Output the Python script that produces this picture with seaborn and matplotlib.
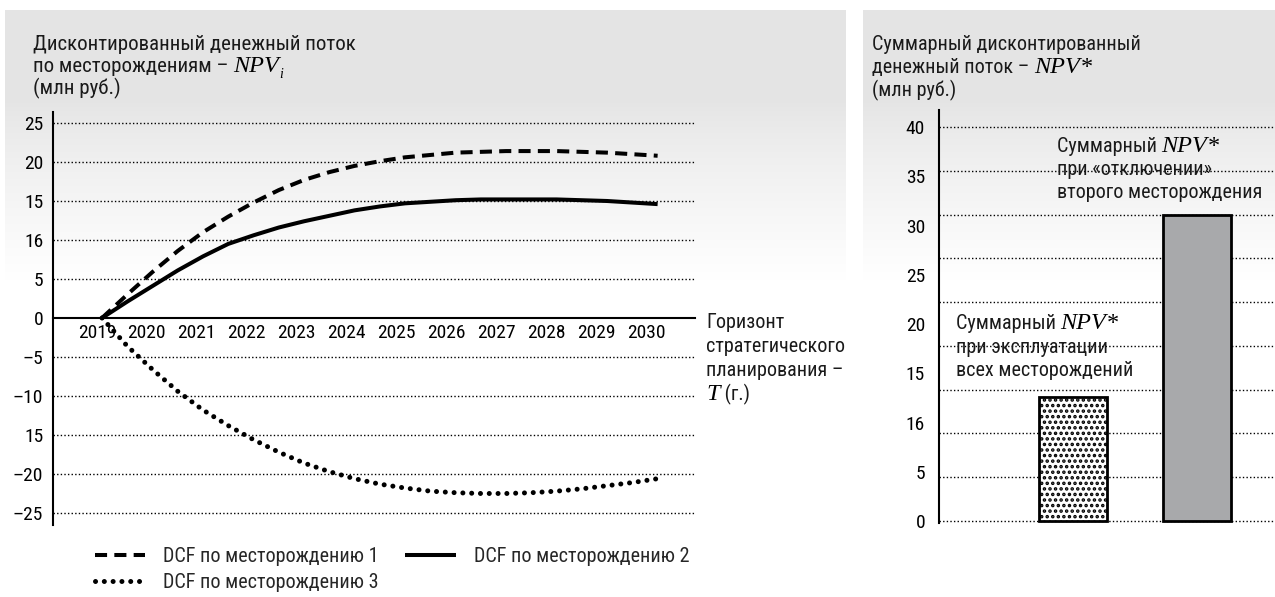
import numpy as np
import pandas as pd
import seaborn as sns
import matplotlib.pyplot as plt
from matplotlib import font_manager

# data
years = [2019, 2019.5, 2020, 2020.5, 2021, 2021.5, 2022, 2022.5, 2023, 2023.5, 2024, 2024.5,
         2025, 2025.5, 2026, 2026.5, 2027, 2027.5, 2028, 2028.5, 2029, 2029.5, 2030]
dcf_1 = [0, 3.0, 5.9, 8.6, 11.0, 13.0, 14.8, 16.4, 17.7, 18.7, 19.5, 20.1,
         20.6, 20.9, 21.2, 21.3, 21.4, 21.4, 21.4, 21.3, 21.2, 21.0, 20.8]
dcf_2 = [0, 2.1, 4.1, 6.1, 7.9, 9.5, 10.6, 11.6, 12.4, 13.1, 13.8, 14.3,
         14.7, 14.9, 15.1, 15.2, 15.2, 15.2, 15.2, 15.1, 15.0, 14.8, 14.6]
dcf_3 = [0, -3.6, -6.6, -9.4, -11.8, -13.8, -15.6, -17.2, -18.6, -19.7, -20.6, -21.3,
         -21.8, -22.2, -22.4, -22.5, -22.5, -22.4, -22.2, -21.9, -21.5, -21.1, -20.6]
series_names = ['DCF по месторождению 1', 'DCF по месторождению 2', 'DCF по месторождению 3']

year_labels = [2019, 2020, 2021, 2022, 2023, 2024, 2025, 2026, 2027, 2028, 2029, 2030]
left_ticks = [25, 20, 15, 10, 5, 0, -5, -10, -15, -20, -25]
left_tick_labels = ['25', '20', '15', '16', '5', '0', '–5', '–10', '15', '–20', '–25']

bar_cats = ['все месторождения', 'без второго']
bar_vals = [12.6, 31.1]
right_ticks = [0, 5, 10, 15, 20, 25, 30, 35, 40]
right_tick_labels = ['0', '5', '16', '15', '20', '25', '30', '35', '40']

# fonts: condensed sans if there is one
names = {f.name for f in font_manager.fontManager.ttflist}
SANS = 'Liberation Sans'
for cand in ['Roboto Condensed', 'Liberation Sans Narrow', 'Open Sans Condensed']:
    if cand in names:
        SANS = cand
        break
SERIF = 'Liberation Serif'

sns.set_theme(style='white')
plt.rcParams['font.family'] = [SANS, 'DejaVu Sans']
plt.rcParams['hatch.linewidth'] = 1.7
FS = 14
TXT = 14.5

W, H = 1275, 597
fig = plt.figure(figsize=(W / 100, H / 100), dpi=100)


def fx(px):
    return px / W


def fy(py):
    return 1 - py / H


# grey panels fading to white
bg = np.ones((H, W, 3))
rows = np.arange(H)
g = 0.895 + 0.105 * np.clip((rows - 100) / 180, 0, 1) ** 0.8
bg[10:, 5:846, :] = g[10:, None, None]
bg[10:, 863:, :] = g[10:, None, None]
fig.figimage(bg, 0, 0, origin='upper', zorder=-10)

# ---------------- left panel ----------------
ax1 = fig.add_axes([fx(53), fy(525), fx(695) - fx(53), fy(112) - fy(525)])
ax1.set_facecolor('none')

df = pd.DataFrame({'year': years * 3,
                   'value': dcf_1 + dcf_2 + dcf_3,
                   'series': [series_names[0]] * len(years) + [series_names[1]] * len(years)
                   + [series_names[2]] * len(years)})

styles = {series_names[0]: dict(dashes=(3.0, 1.8), cap='butt', lw=2.9),
          series_names[1]: dict(dashes=None, cap='round', lw=2.9),
          series_names[2]: dict(dashes=(0.01, 1.75), cap='round', lw=3.6)}
handles = {}
for name in series_names:
    sub = df[df['series'] == name]
    sns.lineplot(data=sub, x='year', y='value', ax=ax1, color='black',
                 linewidth=styles[name]['lw'], legend=False, zorder=5)
    ln = ax1.lines[-1]
    if styles[name]['dashes'] is not None:
        ln.set_dashes(styles[name]['dashes'])
    ln.set_dash_capstyle(styles[name]['cap'])
    ln.set_solid_capstyle('butt')
    handles[name] = ln

for v in left_ticks:
    if v != 0:
        ax1.axhline(v, color='black', lw=1.0, ls=(0, (1, 1.6)), zorder=1)

ax1.set_xlim(2018.03, 2030.74)
ax1.set_ylim(-26.54, 26.41)
for s in ['top', 'right']:
    ax1.spines[s].set_visible(False)
ax1.spines['left'].set_linewidth(1.5)
ax1.spines['left'].set_color('black')
ax1.spines['bottom'].set_position(('data', 0))
ax1.spines['bottom'].set_linewidth(1.5)
ax1.spines['bottom'].set_color('black')

ax1.set_yticks(left_ticks)
ax1.set_yticklabels(left_tick_labels)
ax1.tick_params(axis='y', length=0, pad=7, labelsize=FS, colors='black')

ax1.set_xticks(np.arange(2018.5, 2031, 1.0))
ax1.set_xticklabels([])
ax1.tick_params(axis='x', which='major', direction='out', length=4, width=1.2, color='black')
ax1.set_xticks([y - 0.1 - 0.012 * (y - 2019) for y in year_labels], minor=True)
ax1.set_xticklabels([str(y) for y in year_labels], minor=True)
ax1.tick_params(axis='x', which='minor', length=0, pad=4, labelsize=FS, labelcolor='black')
ax1.set_xlabel('')
ax1.set_ylabel('')

# legend (row 1: 1 and 2, row 2: 3)
order = [series_names[0], series_names[2], series_names[1]]
fig.legend([handles[n] for n in order], order, loc='upper left', ncol=2,
           bbox_to_anchor=(fx(95), fy(547)), frameon=False, fontsize=TXT,
           handlelength=2.5, handletextpad=0.9, columnspacing=1.3, labelspacing=0.35,
           borderaxespad=0, borderpad=0)

# ---------------- right panel ----------------
ax2 = fig.add_axes([fx(939), fy(523), 1 - fx(939), fy(110) - fy(523)])
ax2.set_facecolor('none')
for v in np.linspace(0, 40, 10):
    ax2.axhline(v, color='black', lw=1.0, ls=(0, (1, 1.6)), zorder=1)

sns.barplot(x=bar_cats, y=bar_vals, hue=bar_cats, palette=['white', '#a8a9ab'],
            width=68 / 124, ax=ax2, legend=False, zorder=3, saturation=1)
for p in ax2.patches:
    p.set_edgecolor('black')
    p.set_linewidth(2)
ax2.patches[0].set_hatch('...')

ax2.set_xlim(-1.081, 1.629)
ax2.set_ylim(-0.2, 41.73)
ax2.set_xticks([])
ax2.set_xlabel('')
ax2.set_ylabel('')
for s in ['top', 'right', 'bottom']:
    ax2.spines[s].set_visible(False)
ax2.spines['left'].set_linewidth(1.5)
ax2.spines['left'].set_color('black')
ax2.yaxis.remove_overlapping_locs = False
ax2.set_yticks(np.linspace(0, 40, 10))
ax2.set_yticklabels([])
ax2.tick_params(axis='y', which='major', direction='out', length=3, width=1, color='black')
ax2.set_yticks(right_ticks, minor=True)
ax2.set_yticklabels(right_tick_labels, minor=True)
ax2.tick_params(axis='y', which='minor', length=0, pad=10, labelsize=FS, labelcolor='black')

# ---------------- texts ----------------
renderer = fig.canvas.get_renderer()
sans = dict(fontsize=TXT, color='#1a1a1a', family=[SANS, 'DejaVu Sans'])
serif = dict(fontsize=17.5, color='black', family=SERIF, style='italic')


def put(x, y, parts):
    # parts drawn one after another on a common baseline (pixel coords)
    for txt, props, dy in parts:
        t = fig.text(fx(x), fy(y + dy), txt, va='baseline', ha='left', **props)
        x = x + t.get_window_extent(renderer).width


put(33, 50, [('Дисконтированный денежный поток', dict(sans, fontsize=15), 0)])
put(33, 72, [('по месторождениям – ', dict(sans, fontsize=15), 0), ('NPV', serif, 0),
             ('i', dict(serif, fontsize=10), 6)])
put(33, 94, [('(млн руб.)', dict(sans, fontsize=15), 0)])

put(872, 50, [('Суммарный дисконтированный', sans, 0)])
put(872, 73, [('денежный поток – ', sans, 0), ('NPV*', serif, 0)])
put(872, 96, [('(млн руб.)', sans, 0)])

put(706, 328, [('Горизонт', sans, 0)])
put(706, 352, [('стратегического', sans, 0)])
put(706, 376, [('планирования –', sans, 0)])
put(706, 400, [('T', serif, 0), (' (г.)', sans, 0)])

put(1057, 152, [('Суммарный ', sans, 0), ('NPV*', serif, 0)])
put(1057, 175, [('при «отключении»', sans, 0)])
put(1057, 198, [('второго месторождения', sans, 0)])

put(956, 329, [('Суммарный ', sans, 0), ('NPV*', serif, 0)])
put(956, 353, [('при эксплуатации', sans, 0)])
put(956, 376, [('всех месторождений', sans, 0)])

fig.savefig('out.png', dpi=100)
